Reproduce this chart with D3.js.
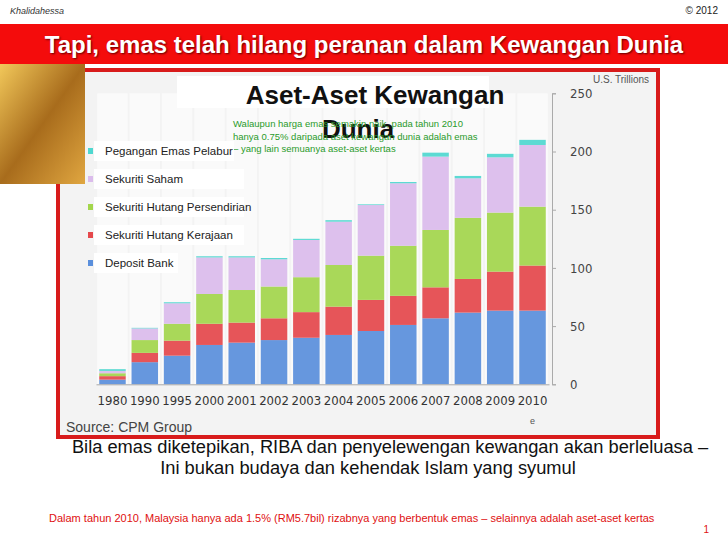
<!DOCTYPE html>
<html><head><meta charset="utf-8">
<script src="https://cdn.jsdelivr.net/npm/d3@7"></script>
<style>body{margin:0;background:#fff;}svg{display:block;font-family:"Liberation Sans",Arial,sans-serif;}</style>
</head><body><svg id="c" width="728" height="546"></svg>
<script>
const years = ["1980","1990","1995","2000","2001","2002","2003","2004","2005","2006","2007","2008","2009","2010"];
const depositBank     = [4, 19, 24.6, 33.8, 35.8, 38, 40, 42.4, 45.8, 51, 56.7, 61.6, 63.3, 63.3];
const hutangKerajaan  = [3, 8, 12.9, 18.2, 17.2, 18.7, 22, 24.3, 26.7, 25, 26.6, 28.9, 33.5, 38.7];
const hutangSwasta    = [2.5, 11, 14.5, 25.6, 28, 27.3, 30, 35.8, 38, 43, 49.3, 52.5, 50.7, 50.6];
const sekuritiSaham   = [2, 10, 17.6, 31.4, 28, 23.4, 32, 37.2, 43.5, 53.7, 63, 34, 47.5, 53];
const emasPelabur     = [1.5, 0.5, 0.9, 1, 1, 1.1, 1, 1.3, 0.6, 1.1, 3.4, 2, 3, 4.4];
const yTicks = [0, 50, 100, 150, 200, 250];
const seriesNames = ["Deposit Bank","Sekuriti Hutang Kerajaan","Sekuriti Hutang Persendirian","Sekuriti Saham","Pegangan Emas Pelabur"];
const seriesColors = ["#5a8fdc","#e5484c","#a3d64c","#dbbcec","#4fd8d0"];

const svg = d3.select("#c");
const defs = svg.append("defs");
const gg = defs.append("linearGradient").attr("id","gold").attr("x1",0).attr("y1",0).attr("x2",1).attr("y2",1);
gg.append("stop").attr("offset","0").attr("stop-color","#f2c85a");
gg.append("stop").attr("offset","0.5").attr("stop-color","#a86c1c");
gg.append("stop").attr("offset","1").attr("stop-color","#e0a640");

svg.append("text").attr("x",10).attr("y",14).attr("font-size",9).attr("font-style","italic").attr("fill","#333").text("Khalidahessa");
svg.append("text").attr("x",718).attr("y",14).attr("text-anchor","end").attr("font-size",10).attr("fill","#222").text("© 2012");
svg.append("rect").attr("x",0).attr("y",24).attr("width",728).attr("height",40).attr("fill","#f40c0c");
svg.append("text").attr("x",364).attr("y",53).attr("text-anchor","middle").attr("font-size",24).attr("font-weight","bold").attr("fill","#fff")
  .attr("font-family","'Liberation Sans Narrow','Arial Narrow',sans-serif")
  .attr("style","text-shadow:1px 1px 2px #600").text("Tapi, emas telah hilang peranan dalam Kewangan Dunia");

svg.append("rect").attr("x",58).attr("y",70).attr("width",600).attr("height",367).attr("fill","#f3f3f3").attr("stroke","#d81b1b").attr("stroke-width",4);
svg.append("rect").attr("x",0).attr("y",64).attr("width",85).attr("height",120).attr("fill","url(#gold)");

const x = d3.scaleBand().domain(years).range([96,549]).paddingInner(0.18).paddingOuter(0.1);
const y = d3.scaleLinear().domain([0,250]).range([384.3,93.3]);

const data = years.map((yr,i)=>({year:yr, s0:depositBank[i], s1:hutangKerajaan[i], s2:hutangSwasta[i], s3:sekuritiSaham[i], s4:emasPelabur[i]}));
const stack = d3.stack().keys(["s0","s1","s2","s3","s4"])(data);

svg.append("g").selectAll("rect").data(years).join("rect")
  .attr("x",d=>x(d)-2).attr("y",y(250)).attr("width",x.bandwidth()+4).attr("height",y(0)-y(250)).attr("fill","#fafafa");

svg.append("g").selectAll("g").data(stack).join("g").attr("fill",(d,i)=>seriesColors[i]).attr("opacity",0.92)
  .selectAll("rect").data(d=>d).join("rect")
  .attr("x",d=>x(d.data.year)).attr("width",x.bandwidth())
  .attr("y",d=>y(d[1])).attr("height",d=>y(d[0])-y(d[1]));

const ya = svg.append("g").attr("transform","translate(552,0)").call(d3.axisRight(y).tickValues(yTicks).tickSize(4));
ya.select(".domain").attr("stroke","#aaa");
ya.selectAll("line").attr("stroke","#aaa");
ya.selectAll("text").attr("font-size",13).attr("fill","#444").attr("x",18).attr("font-family","'DejaVu Sans Condensed',sans-serif");
const xa = svg.append("g").attr("transform","translate(0,384.3)").call(d3.axisBottom(x).tickSize(0));
xa.select(".domain").attr("stroke","#aaa");
xa.selectAll("text").attr("font-size",13).attr("fill","#333").attr("dy",18).attr("font-family","'DejaVu Sans Condensed',sans-serif");
svg.append("text").attr("x",x("2010")+x.bandwidth()/2).attr("y",424).attr("text-anchor","middle").attr("font-size",9).attr("fill","#555").text("e");
svg.append("text").attr("x",593).attr("y",83).attr("font-size",10).attr("fill","#555").text("U.S. Trillions");
svg.append("text").attr("x",66).attr("y",432).attr("font-size",14).attr("fill","#444").text("Source: CPM Group");

svg.append("rect").attr("x",177).attr("y",76).attr("width",312).attr("height",32).attr("fill","#fff");
svg.append("text").attr("x",375).attr("y",104).attr("text-anchor","middle").attr("font-size",26).attr("font-weight","bold").attr("fill","#111").text("Aset-Aset Kewangan");
svg.append("text").attr("x",358).attr("y",138).attr("text-anchor","middle").attr("font-size",26).attr("font-weight","bold").attr("fill","#111").text("Dunia");
const note = ["Walaupun harga emas semakin naik, pada tahun 2010","hanya 0.75% daripada aset kewangan dunia adalah emas","– yang lain semuanya aset-aset kertas"];
svg.append("g").selectAll("text").data(note).join("text").attr("x",233).attr("y",(d,i)=>127+i*12.7)
  .attr("font-size",9.5).attr("fill","#2a9a2a").text(d=>d);

const leg = seriesNames.slice().reverse();
const legColors = seriesColors.slice().reverse();
const lg = svg.append("g").selectAll("g").data(leg).join("g").attr("transform",(d,i)=>`translate(88,${141+i*28})`);
lg.append("rect").attr("x",6).attr("y",0).attr("width",(d,i)=>i===0?140:(i===4?84:150)).attr("height",20).attr("fill","#fff");
lg.append("rect").attr("x",0).attr("y",7).attr("width",5).attr("height",6).attr("fill",(d,i)=>legColors[i]);
lg.append("text").attr("x",17).attr("y",14).attr("font-size",11.5).attr("fill","#222").text(d=>d);

svg.append("text").attr("x",390).attr("y",453).attr("text-anchor","middle").attr("font-size",18.3).attr("fill","#111").text("Bila emas diketepikan, RIBA dan penyelewengan kewangan akan berleluasa –");
svg.append("text").attr("x",368).attr("y",474).attr("text-anchor","middle").attr("font-size",18.3).attr("fill","#111").text("Ini bukan budaya dan kehendak Islam yang syumul");
svg.append("text").attr("x",49).attr("y",522).attr("font-size",11).attr("fill","#e01010").text("Dalam tahun 2010, Malaysia hanya ada 1.5% (RM5.7bil) rizabnya yang  berbentuk emas – selainnya adalah aset-aset kertas");
svg.append("text").attr("x",709).attr("y",533).attr("text-anchor","end").attr("font-size",10).attr("fill","#e01010").text("1");
</script></body></html>
